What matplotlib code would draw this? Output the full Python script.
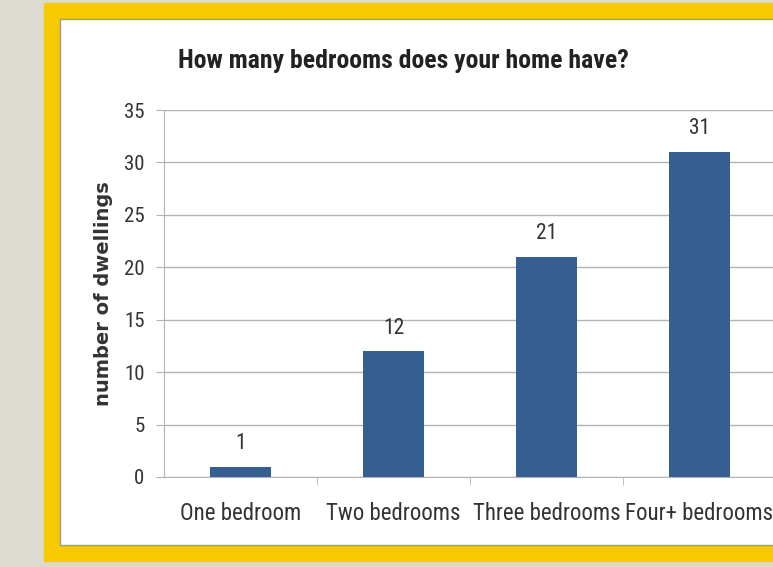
import matplotlib.pyplot as plt
from matplotlib.patches import Rectangle
from matplotlib import font_manager

categories = ["One bedroom", "Two bedrooms", "Three bedrooms", "Four+ bedrooms"]
counts = [1, 12, 21, 31]
y_ticks = [0, 5, 10, 15, 20, 25, 30, 35]

W, H = 773, 567

# condensed font is the closest match for the narrow Calibri-style text
names = {f.name for f in font_manager.fontManager.ttflist}
family = "DejaVu Sans"
for cand in ["Roboto Condensed", "Liberation Sans Narrow", "Liberation Sans"]:
    if cand in names:
        family = cand
        break
plt.rcParams["font.family"] = [family, "DejaVu Sans"]

fig = plt.figure(figsize=(W / 100, H / 100), dpi=100)
fig.patch.set_facecolor("#dcdbd0")

# yellow frame and white panel
fig.add_artist(Rectangle((44 / W, 1 - 561 / H), 1, 558 / H,
                         transform=fig.transFigure, color="#f6c900", zorder=0))
fig.add_artist(Rectangle((60 / W, 1 - 545 / H), 1, 526 / H,
                         transform=fig.transFigure, facecolor="white",
                         edgecolor="#9a9a9a", linewidth=1, zorder=1))

left, right = 164 / W, 776 / W
bottom, top = 1 - 477 / H, 1 - 110 / H
ax = fig.add_axes([left, bottom, right - left, top - bottom], zorder=2)
ax.set_facecolor("none")

x = list(range(len(categories)))
bars = ax.bar(x, counts, width=0.4, color="#365f91", zorder=3)

ax.set_xlim(-0.5, len(categories) - 0.5)
ax.set_ylim(0, 35)
ax.set_yticks(y_ticks)
ax.set_yticklabels([str(v) for v in y_ticks], fontsize=15, color="#333333")
ax.yaxis.grid(True, color="#b4b4b4", linewidth=1)
ax.set_axisbelow(True)

ax.set_xticks(x)
ax.set_xticklabels(categories, fontsize=16.5, color="#333333")
ax.tick_params(axis="x", length=0, pad=18)
ax.set_xticks([i + 0.5 for i in x[:-1]], minor=True)
ax.tick_params(axis="x", which="minor", length=6, color="#b4b4b4")
ax.tick_params(axis="y", length=6, color="#b4b4b4", pad=8)

for s in ["top", "right"]:
    ax.spines[s].set_visible(False)
ax.spines["left"].set_color("#b4b4b4")
ax.spines["bottom"].set_color("#b4b4b4")

for b, v in zip(bars, counts):
    ax.annotate(str(v), (b.get_x() + b.get_width() / 2, v),
                xytext=(0, 9), textcoords="offset points",
                ha="center", va="bottom", fontsize=15.5, color="#333333")

ax.set_ylabel("number of dwellings", fontsize=14, fontweight="bold",
              color="#333333", labelpad=8, family=["DejaVu Sans"])

fig.text(403 / W, 1 - 61 / H, "How many bedrooms does your home have?",
         ha="center", va="center", fontsize=18.5, fontweight="bold",
         color="#222222")

fig.savefig("out.png", dpi=100)
